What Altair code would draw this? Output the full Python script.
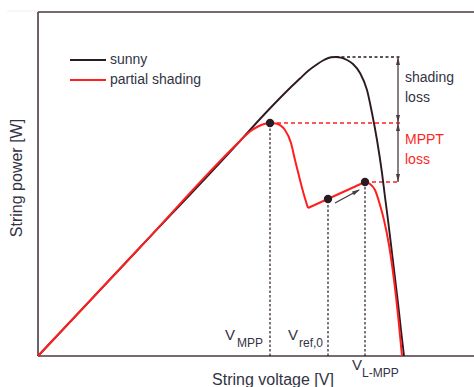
import altair as alt
import pandas as pd

# ---- P-V curves of a PV string (arbitrary voltage / power units) ----
sunny_v = [0, 101, 202, 222, 242, 252, 262, 270, 278, 286, 293, 298, 303, 309, 315, 322, 329, 334, 339, 344, 347, 350, 354, 360, 363, 366]
sunny_p = [0, 107.5, 215, 237, 258, 268, 277.5, 285, 291, 296, 298.7, 299, 298.3, 296, 292, 283, 266, 243, 216, 183, 159, 136, 103, 53, 26, 0]

# partial shading curve, split at its kinks
shade_v = [0, 101, 202, 212, 220, 227, 232, 238, 247, 253, 257, 262, 266, 270,
           270, 327,
           327, 332, 337, 342, 346, 351, 356, 360, 364]
shade_p = [0, 107.5, 215, 224.5, 229.5, 232.3, 233, 232.5, 226, 213, 196, 176, 161, 148,
           148, 174,
           174, 172, 166, 151, 136, 111, 76, 41, 0]
shade_part = [1] * 14 + [2] * 2 + [3] * 9

# operating points: V_MPP, V_ref,0, V_L-MPP
op_v = [232, 290, 327]
op_p = [233, 157, 174]

P_SUNNY_MAX = 299
P_MPP = 233
P_LMPP = 174
X_BRACKET = 360
X_DASH_END = 362

X_MAX = 436
Y_MAX = 344

DARK = "#2b1a22"
RED = "#ff1f1f"
FRAME = "#4a3a44"
TEXT = "#333344"
FONT = "Liberation Sans"

xs = alt.Scale(domain=[0, X_MAX], nice=False, zero=False)
ys = alt.Scale(domain=[0, Y_MAX], nice=False, zero=False)


def X(f="x"):
    return alt.X(f"{f}:Q", scale=xs, axis=None)


def Y(f="y"):
    return alt.Y(f"{f}:Q", scale=ys, axis=None)


sunny = pd.DataFrame({"x": sunny_v, "y": sunny_p})
shade = pd.DataFrame({"x": shade_v, "y": shade_p, "part": shade_part})
ops = pd.DataFrame({"x": op_v, "y": op_p, "base": [0] * len(op_v)})

# frame (left, top, bottom) and a faint header rule
frame = pd.DataFrame({
    "x": [0, 0, 0, -31], "x2": [0, X_MAX, X_MAX, 0],
    "y": [0, Y_MAX, 0, Y_MAX + 1], "y2": [Y_MAX, Y_MAX, 0, Y_MAX + 1],
    "c": [FRAME, FRAME, FRAME, "#eeeeee"], "w": [1.6, 1.6, 1.6, 1.0],
})
frame_layer = alt.Chart(frame).mark_rule().encode(
    x=X(), x2="x2:Q", y=Y(), y2="y2:Q",
    color=alt.Color("c:N", scale=None), strokeWidth=alt.StrokeWidth("w:Q", scale=None),
)

sunny_line = alt.Chart(sunny).mark_line(color=DARK, strokeWidth=1.9, interpolate="monotone").encode(
    x=X(), y=Y(), order="x:Q")
shade_line = alt.Chart(shade).mark_line(color=RED, strokeWidth=2, interpolate="monotone").encode(
    x=X(), y=Y(), detail="part:N", order="x:Q")

# dashed horizontal guides to the loss bracket
hdash = pd.DataFrame({"x": [298, op_v[0], op_v[2]], "x2": [X_DASH_END] * 3,
                      "y": [P_SUNNY_MAX, P_MPP, P_LMPP]})
hdash_black = alt.Chart(hdash.iloc[[0]]).mark_rule(color=DARK, strokeWidth=1.5, strokeDash=[3, 2.5]).encode(
    x=X(), x2="x2:Q", y=Y())
hdash_red = alt.Chart(hdash.iloc[[1, 2]]).mark_rule(color=RED, strokeWidth=1.6, strokeDash=[4, 3]).encode(
    x=X(), x2="x2:Q", y=Y())

# dotted drop lines from the operating points
vdot = alt.Chart(ops).mark_rule(color=DARK, strokeWidth=1.2, strokeDash=[2.5, 2]).encode(
    x=X(), y=Y("base"), y2="y:Q")

# loss bracket (double arrows)
bracket = pd.DataFrame({"x": [X_BRACKET], "y": [P_LMPP], "y2": [P_SUNNY_MAX]})
bracket_rule = alt.Chart(bracket).mark_rule(color=FRAME, strokeWidth=1.3).encode(
    x=X(), y=Y(), y2="y2:Q")
UP = "M0,-1L0.5,1L-0.5,1Z"
DOWN = "M0,1L0.5,-1L-0.5,-1Z"
heads_up = pd.DataFrame({"x": [X_BRACKET, X_BRACKET], "y": [P_SUNNY_MAX, P_MPP]})
heads_down = pd.DataFrame({"x": [X_BRACKET, X_BRACKET], "y": [P_MPP, P_LMPP]})
up_layer = alt.Chart(heads_up).mark_point(shape=UP, filled=True, size=64, color=FRAME, opacity=1,
                                          yOffset=4).encode(x=X(), y=Y())
down_layer = alt.Chart(heads_down).mark_point(shape=DOWN, filled=True, size=64, color=FRAME, opacity=1,
                                              yOffset=-4).encode(x=X(), y=Y())

# tracking arrow from V_ref,0 towards the local MPP
track = pd.DataFrame({"x": [297], "y": [153], "x2": [321], "y2": [166]})
track_rule = alt.Chart(track).mark_rule(color=FRAME, strokeWidth=1.4).encode(
    x=X(), y=Y(), x2="x2:Q", y2="y2:Q")
track_head = alt.Chart(track).mark_point(shape=UP, filled=True, size=64, color=FRAME, opacity=1,
                                         angle=62, xOffset=-2.5, yOffset=1.5).encode(
    x=X("x2"), y=Y("y2"))

dots = alt.Chart(ops).mark_point(filled=True, size=70, color=DARK, opacity=1).encode(x=X(), y=Y())

# legend
leg = pd.DataFrame({"x": [32, 32], "x2": [68, 68], "y": [296, 276], "c": [DARK, RED],
                    "t": ["sunny", "partial shading"]})
leg_lines = alt.Chart(leg).mark_rule(strokeWidth=2.2).encode(
    x=X(), x2="x2:Q", y=Y(), color=alt.Color("c:N", scale=None))
leg_text = alt.Chart(leg).mark_text(align="left", baseline="middle", font=FONT, fontSize=14,
                                    color=TEXT, dx=4).encode(x=X("x2"), y=Y(), text="t:N")

# annotations
notes = pd.DataFrame({
    "x": [367, 367, 367, 367],
    "y": [278, 258, 216, 196],
    "t": ["shading", "loss", "MPPT", "loss"],
    "c": [TEXT, TEXT, RED, RED],
})
notes_layer = alt.Chart(notes).mark_text(align="left", baseline="middle", font=FONT, fontSize=14).encode(
    x=X(), y=Y(), text="t:N", color=alt.Color("c:N", scale=None))

vmain = pd.DataFrame({"x": [187, 250, 314], "y": [16, 16, -14], "t": ["V", "V", "V"]})
vsub = pd.DataFrame({"x": [199, 261, 324], "y": [9, 9, -21], "t": ["MPP", "ref,0", "L-MPP"]})
vmain_layer = alt.Chart(vmain).mark_text(align="left", baseline="alphabetic", font=FONT, fontSize=15,
                                         color=TEXT).encode(x=X(), y=Y(), text="t:N")
vsub_layer = alt.Chart(vsub).mark_text(align="left", baseline="alphabetic", font=FONT, fontSize=12,
                                       color=TEXT).encode(x=X(), y=Y(), text="t:N")

titles = pd.DataFrame({"x": [235, -21], "y": [-29, 178], "t": ["String voltage [V]", "String power [W]"]})
xtitle = alt.Chart(titles.iloc[[0]]).mark_text(align="center", baseline="alphabetic", font=FONT,
                                               fontSize=16, color=TEXT).encode(x=X(), y=Y(), text="t:N")
ytitle = alt.Chart(titles.iloc[[1]]).mark_text(align="center", baseline="middle", font=FONT, fontSize=16,
                                               color=TEXT, angle=270).encode(x=X(), y=Y(), text="t:N")

chart = alt.layer(
    frame_layer, hdash_black, hdash_red, vdot, bracket_rule, up_layer, down_layer,
    sunny_line, shade_line, track_rule, track_head, dots,
    leg_lines, leg_text, notes_layer, vmain_layer, vsub_layer, xtitle, ytitle,
).properties(
    width=X_MAX, height=Y_MAX,
    padding={"left": 38, "top": 12, "right": 0, "bottom": 31},
    autosize=alt.AutoSizeParams(type="none"),
).configure_view(strokeWidth=0)

chart.save("out.html", embed_options={"renderer": "svg", "actions": False})
